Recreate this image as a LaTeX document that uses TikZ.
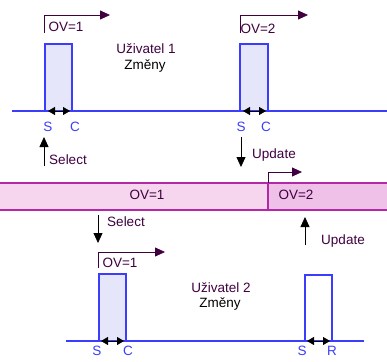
\documentclass[tikz,border=0pt]{standalone}
\usepackage{fontspec}
\setmainfont{Liberation Sans}
\usetikzlibrary{arrows.meta}
\definecolor{chgblue}{HTML}{3C3CFF}
\definecolor{chgfill}{HTML}{E6E6FA}
\definecolor{ovband}{HTML}{F6D6EE}
\definecolor{ovbandnew}{HTML}{EFC0E8}
\definecolor{ovedge}{HTML}{B428A8}
\definecolor{ovtext}{HTML}{400040}

\begin{document}
\begin{tikzpicture}[x=1pt,y=-1pt,font=\fontsize{13.5}{15}\selectfont,
  >={Triangle[length=10pt,width=9pt]},
  lbl/.style={text=ovtext,inner sep=0pt},
  sc/.style={text=chgblue,inner sep=0pt},
  pulse/.style={draw=chgblue,line width=1.5pt,fill=chgfill},
  axis/.style={draw=chgblue,line width=1.5pt},
  band/.style={draw=ovedge,line width=1.8pt},
  arr/.style={->,line width=0.8pt,draw=black},
  ovarr/.style={->,line width=0.8pt,draw=ovtext},
  span/.style={{Triangle[length=7pt,width=8pt]}-{Triangle[length=7pt,width=8pt]},
    line width=0.8pt}]
  \useasboundingbox[fill=white] (0,0) rectangle (387,361);

  % user 1 timeline
  \draw[axis] (12,111) -- (387,111);
  \draw[pulse] (45,111) rectangle (72,44);
  \draw[pulse] (240,111) rectangle (268,44);
  \coordinate (sc1l) at (48,111);
  \coordinate (sc1r) at (70,111);
  \coordinate (sc2l) at (243,111);
  \coordinate (sc2r) at (266,111);
  \draw[span] (sc1l) -- (sc1r);
  \draw[span] (sc2l) -- (sc2r);
  \node[sc] (s1) at (48,127) {S};
  \node[sc] (c1) at (75,127) {C};
  \node[sc] (s2) at (241,127) {S};
  \node[sc] (c2) at (266,127) {C};
  \node[lbl] (user1) at (146,49) {Uživatel 1};
  \node[inner sep=0pt] (chg1) at (145,66) {Změny};

  % version marks
  \coordinate (ov1b) at (44,33);
  \coordinate (ov1e) at (110,15);
  \draw[ovarr] (ov1b) |- (ov1e);
  \node[lbl] (ov1) at (66,27) {OV=1};
  \coordinate (ov2b) at (240,33);
  \coordinate (ov2e) at (308,15);
  \draw[ovarr] (ov2b) |- (ov2e);
  \node[lbl] (ov2) at (258,29) {OV=2};

  \coordinate (sel1a) at (44,166);
  \coordinate (sel1b) at (44,137);
  \draw[arr] (sel1a) -- (sel1b);
  \node[lbl] (sel1) at (68,160) {Select};
  \coordinate (upd1a) at (241,137);
  \coordinate (upd1b) at (241,167);
  \draw[arr] (upd1a) -- (upd1b);
  \node[lbl] (upd1) at (274,155) {Update};

  % object versions
  \fill[ovband] (0,183) rectangle (268,210);
  \fill[ovbandnew] (268,183) rectangle (387,210);
  \draw[band] (0,183) -- (387,183);
  \draw[band] (0,210) -- (387,210);
  \draw[band] (268,183) -- (268,210);
  \node[lbl] (bov1) at (147,195) {OV=1};
  \node[lbl] (bov2) at (296,195) {OV=2};
  \coordinate (bovb) at (268,183);
  \coordinate (bove) at (302,172);
  \draw[ovarr] (bovb) |- (bove);

  \coordinate (sel2a) at (98,215);
  \coordinate (sel2b) at (98,243);
  \draw[arr] (sel2a) -- (sel2b);
  \node[lbl] (sel2) at (126,222) {Select};
  \coordinate (upd2a) at (305,245);
  \coordinate (upd2b) at (305,217);
  \draw[arr] (upd2a) -- (upd2b);
  \node[lbl] (upd2) at (343,241) {Update};

  % user 2 timeline
  \coordinate (ov3b) at (98,268);
  \coordinate (ov3e) at (165,252);
  \draw[ovarr] (ov3b) |- (ov3e);
  \node[lbl] (ov3) at (120,263) {OV=1};
  \draw[axis] (66,341) -- (364,341);
  \draw[pulse] (99,341) rectangle (126,274);
  \draw[pulse,fill=white] (305,341) rectangle (332,275);
  \coordinate (sc3l) at (101,341);
  \coordinate (sc3r) at (124,341);
  \coordinate (sc4l) at (307,341);
  \coordinate (sc4r) at (330,341);
  \draw[span] (sc3l) -- (sc3r);
  \draw[span] (sc4l) -- (sc4r);
  \node[sc] (s3) at (97,351) {S};
  \node[sc] (c3) at (128,351) {C};
  \node[sc] (s4) at (302,351) {S};
  \node[sc] (r4) at (332,351) {R};
  \node[lbl] (user2) at (221,288) {Uživatel 2};
  \node[inner sep=0pt] (chg2) at (220,304) {Změny};
\end{tikzpicture}
\end{document}
